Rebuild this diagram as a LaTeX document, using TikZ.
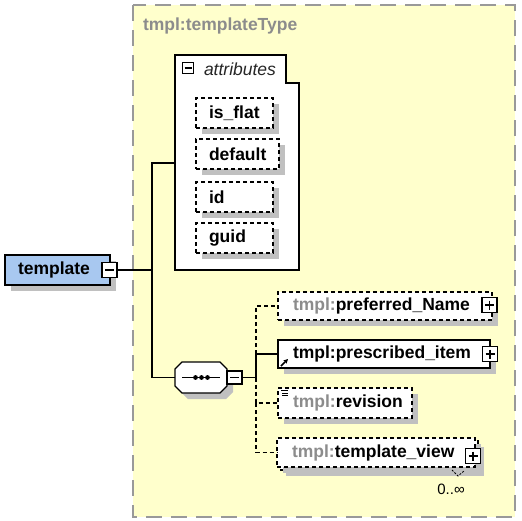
\documentclass[tikz,border=0pt]{standalone}
\usepackage{fontspec}
\setmainfont{Liberation Sans}
\usetikzlibrary{arrows.meta,shadows}
\definecolor{bgyellow}{RGB}{255,255,204}
\definecolor{bordergray}{RGB}{153,153,153}
\definecolor{shadowgray}{RGB}{192,192,192}
\definecolor{tmplblue}{RGB}{168,200,240}
\definecolor{nsgray}{RGB}{140,140,140}
\newcommand\lblfont{\fontsize{17.5}{20}\selectfont\bfseries}
\newcommand\ns{\textcolor{nsgray}{tmpl:}}
\begin{document}
\begin{tikzpicture}[x=1pt,y=-1pt,
  every node/.style={inner sep=0pt, outer sep=0pt},
  box/.style={draw=black, line width=1.2pt, fill=white, rectangle},
  dbox/.style={box, dash pattern=on 4pt off 3pt},
  sh/.style={drop shadow={shadow xshift=6pt,shadow yshift=-6pt,fill=shadowgray,opacity=1}},
  abox/.style={dbox, sh, anchor=west, minimum height=30pt, inner xsep=13pt, text width=#1, align=left, font=\lblfont},
  ebox/.style={box, sh, anchor=west, minimum height=28pt, inner xsep=15pt, text width=#1, align=left, font=\lblfont},
  debox/.style={ebox=#1, dash pattern=on 4pt off 3pt},
  pmbox/.style={draw=black, line width=1.2pt, fill=white, minimum width=15pt, minimum height=15pt},
  sign/.style={line width=1.2pt},
  conn/.style={line width=1.3pt},
  dconn/.style={conn, dash pattern=on 4pt off 3pt},
]
\useasboundingbox (0,0) rectangle (522,520);
% type container
\fill[bgyellow] (133,5) rectangle (515,517);
\draw[bordergray, line width=1.5pt, dash pattern=on 16pt off 9pt] (133,5) rectangle (515,517);
\node[font=\lblfont, text=nsgray, anchor=west] (title) at (143,26) {tmpl:templateType};

% attributes group
\draw[box] (175,55) -- (286,55) -- (286,83) -- (299,83) -- (299,270) -- (175,270) -- cycle;
\coordinate (attrin) at (175,163);
\node[pmbox, minimum width=11pt, minimum height=11pt] (attrm) at (188,68) {};
\draw[sign] (184.5,68) -- (191.5,68);
\node[font=\fontsize{17.5}{20}\selectfont\itshape, text=black!85, anchor=west] (attrt) at (204,69) {attributes};
\node[abox=51pt] (isflat) at (196,113) {is\_flat};
\node[abox=57pt] (default) at (196,154) {default};
\node[abox=51pt] (id) at (196,197) {id};
\node[abox=51pt] (guid) at (196,238) {guid};

% template element
\node[box, sh, fill=tmplblue, anchor=west, minimum height=30pt, inner xsep=13pt, text width=79pt, align=left, font=\lblfont] (tmpl) at (5,270) {template};
\node[pmbox] (tmplm) at (109.5,270) {};
\draw[sign] (105,270) -- (114,270);
\coordinate (j1) at (152,270);
\draw[conn] (tmplm.east) -- (j1);
\draw[conn] (j1) |- (attrin);

% sequence compositor
\node[minimum width=52pt, minimum height=31pt] (seq) at (201,377.5) {};
\fill[shadowgray] (188,368) -- (226,368) -- (233,375) -- (233,392) -- (226,399) -- (188,399) -- (181,392) -- (181,375) -- cycle;
\draw[box] (182,362) -- (220,362) -- (227,369) -- (227,386) -- (220,393) -- (182,393) -- (175,386) -- (175,369) -- cycle;
\draw[line width=1.4pt] (182,377.5) -- (220,377.5);
\fill (195.5,377.5) circle (2.4pt);
\fill (201.5,377.5) circle (2.4pt);
\fill (207.5,377.5) circle (2.4pt);
\draw[conn] (j1) |- (seq.west);
\node[pmbox, minimum height=13pt] (seqm) at (234.5,377.5) {};
\draw[sign] (230,377.5) -- (239,377.5);
\coordinate (j2) at (256,377.5);
\draw[conn] (seqm.east) -- (j2);

% children
\node[debox=184pt] (pref) at (278,306) {\ns preferred\_Name};
\node[pmbox] (prefp) at (489.5,305) {};
\draw[sign] (485,305) -- (494,305) (489.5,300.5) -- (489.5,309.5);

\node[ebox=182pt] (presc) at (278,354) {tmpl:prescribed\_item};
\node[pmbox] (prescp) at (490,354) {};
\draw[sign] (485.5,354) -- (494.5,354) (490,349.5) -- (490,358.5);
\draw[-{Stealth[length=4.5pt,width=4.5pt]}, line width=1.5pt] (281,366) -- (288,359);

\node[debox=104pt, minimum height=30pt] (rev) at (278,403) {\ns revision};
\draw[line width=0.9pt] (281,390.5) -- (288,390.5) (282,393) -- (288,393) (282,395.5) -- (288,395.5);

\node[dbox, sh, anchor=west, minimum width=198pt, minimum height=29pt] (tviewb) at (280,455.5) {};
\node[debox=168pt, minimum height=29pt] (tview) at (277,452.5) {\ns template\_view};
\node[pmbox] (tviewp) at (473,456) {};
\draw[sign] (468.5,456) -- (477.5,456) (473,451.5) -- (473,460.5);
\draw[line width=0.8pt, dash pattern=on 2pt off 1.5pt] (452,470) -- (458,476) -- (464,471);
\node[font=\fontsize{15}{18}\selectfont] (card) at (451,489) {0..∞};

\draw[conn] (j2) |- (presc.west);
\draw[dconn] (j2 |- presc.west) |- (pref.west);
\draw[dconn] (j2) |- (rev.west);
\draw[dconn] (j2 |- rev.west) |- (tview.west);
\end{tikzpicture}
\end{document}
